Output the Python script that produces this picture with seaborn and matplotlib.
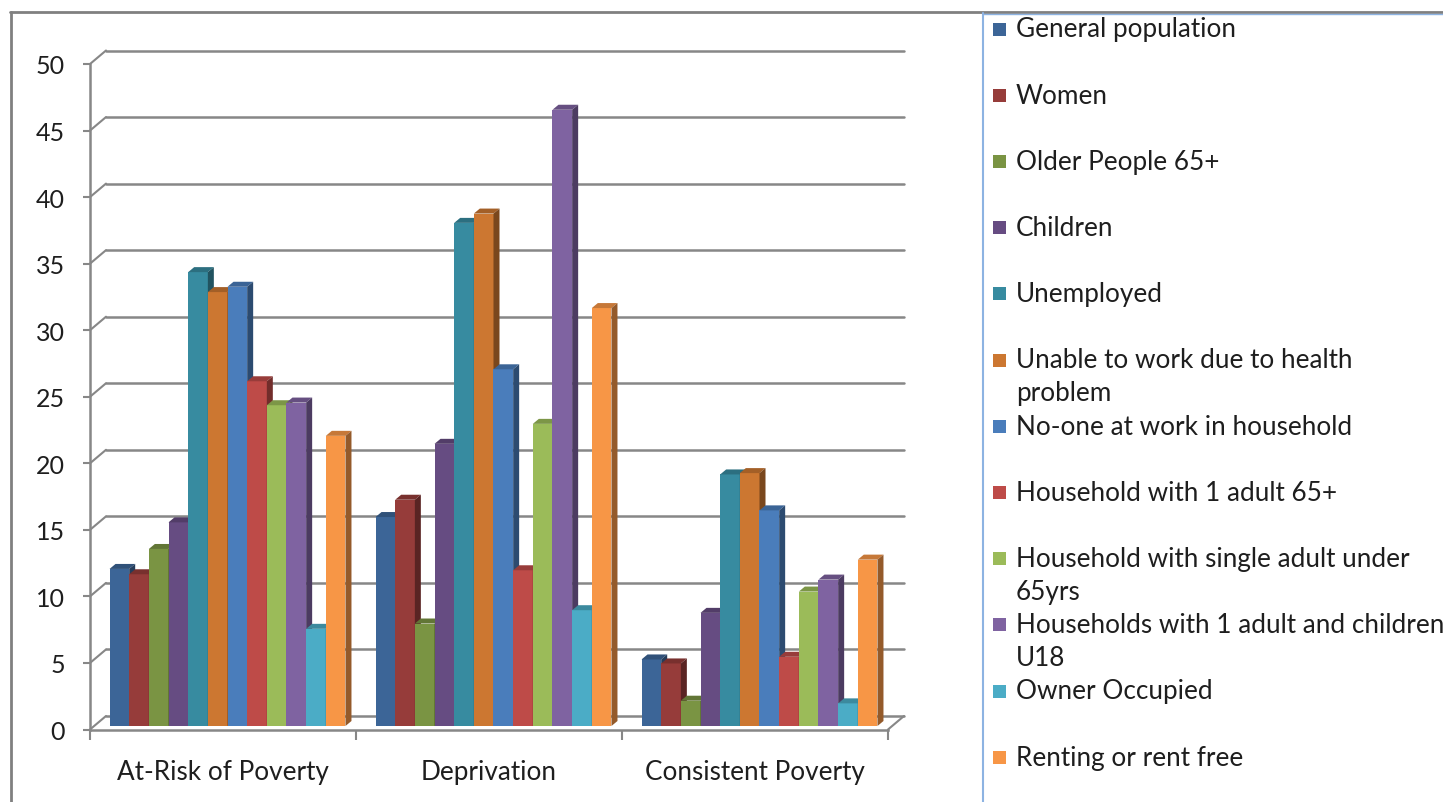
import numpy as np
import pandas as pd
import matplotlib
matplotlib.use('Agg')
import matplotlib.pyplot as plt
import seaborn as sns
from matplotlib.transforms import ScaledTranslation
from matplotlib.patches import Polygon, Rectangle
from matplotlib.lines import Line2D

## the data
categories = ['At-Risk of Poverty', 'Deprivation', 'Consistent Poverty']
groups = ['General population', 'Women', 'Older People 65+', 'Children',
          'Unemployed', 'Unable to work due to health problem',
          'No-one at work in household', 'Household with 1 adult 65+',
          'Household with single adult under 65yrs',
          'Households with 1 adult and children U18',
          'Owner Occupied', 'Renting or rent free']
legend_labels = ['General population', 'Women', 'Older People 65+', 'Children',
                 'Unemployed', 'Unable to work due to health\nproblem',
                 'No-one at work in household', 'Household with 1 adult 65+',
                 'Household with single adult under\n65yrs',
                 'Households with 1 adult and children\nU18',
                 'Owner Occupied', 'Renting or rent free']
at_risk = [11.8, 11.4, 13.3, 15.3, 34.1, 32.6, 33.0, 25.9, 24.1, 24.3, 7.3, 21.8]
deprivation = [15.7, 17.0, 7.7, 21.2, 37.8, 38.5, 26.8, 11.7, 22.7, 46.3, 8.7, 31.4]
consistent = [5.0, 4.7, 1.9, 8.5, 18.9, 19.0, 16.2, 5.2, 10.1, 11.0, 1.7, 12.5]
colors = ['#3c6597', '#963c3a', '#7a9443', '#664c82', '#378ba0', '#cc7731',
          '#4a7dbb', '#be4b48', '#9bbb59', '#7f63a1', '#4bacc6', '#f79646']

df = pd.DataFrame({
    'category': np.repeat(categories, len(groups)),
    'group': groups * len(categories),
    'value': at_risk + deprivation + consistent,
})

sns.set_style('white')
plt.rcParams['font.family'] = ['Lato', 'DejaVu Sans']

W, H, DPI = 1443, 803, 100
X_LEFT, X_RIGHT, Y_ZERO, Y_TOP = 90, 888, 730.5, 65
GRID = '#878787'
TXT = '#1e1e1e'
FS = 18.8

fig = plt.figure(figsize=(W / DPI, H / DPI), dpi=DPI)
ax = fig.add_axes([X_LEFT / W, (H - Y_ZERO) / H, (X_RIGHT - X_LEFT) / W, (Y_ZERO - Y_TOP) / H])
ax.set_facecolor('none')

sns.barplot(data=df, x='category', y='value', hue='group', hue_order=groups,
            palette=colors, saturation=1, width=0.887, legend=False,
            edgecolor='none', linewidth=0, ax=ax)
ax.set_xlim(-0.5, 2.5)
ax.set_ylim(0, 50)
ax.set_xlabel('')
ax.set_ylabel('')

## fake 3d look, like the excel chart
px_x = (X_RIGHT - X_LEFT) / 3.0
px_y = (Y_ZERO - Y_TOP) / 50.0
bar_shift = ScaledTranslation(4.5 / DPI, 3.5 / DPI, fig.dpi_scale_trans)
wall_shift = ScaledTranslation(16 / DPI, 13.5 / DPI, fig.dpi_scale_trans)
dx, dy = 6 / px_x, 5 / px_y

bars = sorted(ax.patches, key=lambda p: p.get_x())
for k, bar in enumerate(bars):
    x0, w, h = bar.get_x(), bar.get_width(), bar.get_height()
    fc = np.array(bar.get_facecolor()[:3])
    tr = ax.transData + bar_shift
    z = 3 + k * 0.01
    bar.set_transform(tr)
    bar.set_zorder(z)
    bar.set_clip_on(False)
    top = Polygon([(x0, h), (x0 + w, h), (x0 + w + dx, h + dy), (x0 + dx, h + dy)],
                  closed=True, facecolor=fc * 0.8, edgecolor='none', transform=tr,
                  zorder=z, clip_on=False)
    side = Polygon([(x0 + w, 0), (x0 + w, h), (x0 + w + dx, h + dy), (x0 + w + dx, dy)],
                   closed=True, facecolor=fc * 0.6, edgecolor='none', transform=tr,
                   zorder=z, clip_on=False)
    ax.add_patch(top)
    ax.add_patch(side)

## back wall gridlines and left wall
yticks = list(range(0, 51, 5))
for v in yticks:
    ax.plot([-0.5, 2.5], [v, v], color=GRID, lw=1.8, transform=ax.transData + wall_shift,
            clip_on=False, zorder=1)
    ax.plot([-0.5, -0.5 + 16 / px_x], [v, v + 13.5 / px_y], color=GRID, lw=1.5,
            clip_on=False, zorder=1)
ax.plot([2.5, 2.5 + 16 / px_x], [0, 13.5 / px_y], color=GRID, lw=1.5, clip_on=False, zorder=1)

sns.despine(ax=ax, top=True, right=True)
for s in ['left', 'bottom']:
    ax.spines[s].set_color(GRID)
    ax.spines[s].set_linewidth(1.8)
    ax.spines[s].set_zorder(2)

ax.set_yticks(yticks)
ax.tick_params(axis='y', direction='out', length=5, width=1.5, color=GRID, pad=13,
               labelsize=FS - 0.8, labelcolor=TXT, left=True)
ax.set_xticks([0, 1, 2])
ax.set_xticks([-0.5, 0.5, 1.5, 2.5], minor=True)
ax.tick_params(axis='x', which='major', length=0, pad=21, labelsize=FS, labelcolor=TXT)
ax.tick_params(axis='x', which='minor', direction='out', length=7, width=1.5, color=GRID, bottom=True)

## legend, drawn by hand so the slots are even like in the picture
for i, (lab, col) in enumerate(zip(legend_labels, colors)):
    yc = 30 + 66.2 * i
    fig.add_artist(Rectangle((993 / W, 1 - (yc + 6.5) / H), 13 / W, 13 / H,
                             transform=fig.transFigure, facecolor=col, edgecolor='none'))
    for j, line in enumerate(lab.split('\n')):
        fig.text(1016 / W, 1 - (yc + 33 * j) / H, line, fontsize=FS, color=TXT,
                 ha='left', va='center')

## chart border lines
fig.add_artist(Line2D([10 / W, 1], [1 - 12.5 / H, 1 - 12.5 / H], color='#808080', lw=2,
                      transform=fig.transFigure))
fig.add_artist(Line2D([11 / W, 11 / W], [0, 1 - 12.5 / H], color='#808080', lw=2,
                      transform=fig.transFigure))
fig.add_artist(Line2D([983 / W, 983 / W], [0, 1 - 14 / H], color='#8db3e2', lw=1.5,
                      transform=fig.transFigure))
fig.add_artist(Line2D([983 / W, 1], [1 - 14.5 / H, 1 - 14.5 / H], color='#8db3e2', lw=1,
                      transform=fig.transFigure))

fig.savefig('out.png', dpi=DPI)
